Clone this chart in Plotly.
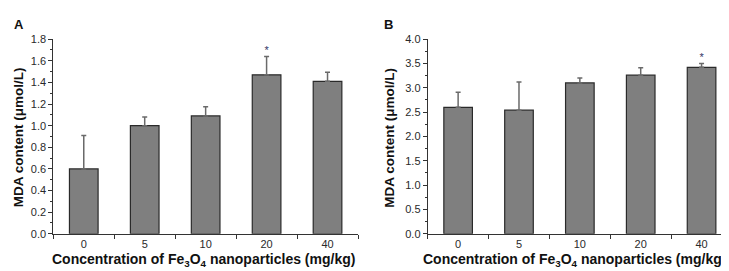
import plotly.graph_objects as go

categories = ["0", "5", "10", "20", "40"]
mda_a = [0.60, 1.00, 1.09, 1.47, 1.41]
err_a = [0.31, 0.08, 0.085, 0.17, 0.085]
mda_b = [2.60, 2.54, 3.10, 3.26, 3.42]
err_b = [0.31, 0.58, 0.10, 0.15, 0.08]
sig_a = ["", "", "", "*", ""]
sig_b = ["", "", "", "", "*"]

W, H = 729, 271
BAR = "#7f7f7f"
EDGE = "#2a2a2a"
AX = "#333333"

def px_x(v):
    return v / W

def px_y(v):
    return 1 - v / H

fig = go.Figure()

for i, (vals, errs, sig) in enumerate([(mda_a, err_a, sig_a), (mda_b, err_b, sig_b)]):
    xa = "x" if i == 0 else "x2"
    ya = "y" if i == 0 else "y2"
    fig.add_trace(go.Bar(
        x=categories, y=vals, xaxis=xa, yaxis=ya, width=0.47,
        marker=dict(color=BAR, line=dict(color=EDGE, width=1.2)),
        error_y=dict(type="data", array=errs, arrayminus=[0] * len(errs), symmetric=False,
                     color="#6a6a6a", thickness=1.5, width=2.5),
        showlegend=False, hoverinfo="skip",
    ))
    sx = [c for c, s in zip(categories, sig) if s]
    sy = [v + e for v, e, s in zip(vals, errs, sig) if s]
    st = [s for s in sig if s]
    fig.add_trace(go.Scatter(
        x=sx, y=sy, xaxis=xa, yaxis=ya,
        mode="text", text=st, textposition="top center",
        textfont=dict(size=11, color="#333366", family="Liberation Sans, Arial"),
        showlegend=False, hoverinfo="skip",
    ))

tickfont = dict(size=11, color="#2a2a2a", family="Liberation Sans, Arial")
common_x = dict(type="category", tickson="boundaries", ticks="outside", ticklen=4,
                tickcolor=AX, showline=True, linecolor=AX, linewidth=1,
                showgrid=False, zeroline=False, tickfont=tickfont, fixedrange=True)
common_y = dict(ticks="outside", ticklen=4, tickcolor=AX, showline=True, linecolor=AX,
                linewidth=1, showgrid=False, zeroline=False, tickfont=tickfont,
                tickformat=".1f")

ydom = [px_y(230), px_y(26.3)]
fig.update_layout(
    width=W, height=H,
    margin=dict(l=0, r=0, t=0, b=0),
    paper_bgcolor="white", plot_bgcolor="white",
    font=dict(family="Liberation Sans, Arial", color="#111111"),
    xaxis=dict(domain=[px_x(45.3), px_x(350)], anchor="y", **common_x),
    xaxis2=dict(domain=[px_x(419.7), px_x(724)], anchor="y2", **common_x),
    yaxis=dict(domain=ydom, anchor="x", range=[0, 1.8], dtick=0.2,
               minor=dict(ticks="outside", ticklen=2, dtick=0.1, tickcolor=AX), **common_y),
    yaxis2=dict(domain=ydom, anchor="x2", range=[0, 4.0], dtick=0.5,
                minor=dict(ticks="outside", ticklen=2, dtick=0.25, tickcolor=AX), **common_y),
    bargap=0.53,
)

xtitle = "Concentration of Fe<sub>3</sub>O<sub>4</sub> nanoparticles (mg/kg)"
ytitle = "MDA content (μmol/L)"
ann = []
for cx, yx, lx, lab in [(195, 10.5, 11.5, "A"), (566, 382, 380, "B")]:
    ann.append(dict(text="<b>" + xtitle + "</b>", x=px_x(cx), y=px_y(257), xref="paper", yref="paper",
                    showarrow=False, font=dict(size=14, color="#111111"), xanchor="center", yanchor="middle"))
    ann.append(dict(text="<b>" + ytitle + "</b>", x=px_x(yx), y=px_y(129.5), xref="paper", yref="paper",
                    showarrow=False, textangle=-90, font=dict(size=13.5, color="#111111"),
                    xanchor="center", yanchor="middle"))
    ann.append(dict(text="<b>" + lab + "</b>", x=px_x(lx), y=px_y(11), xref="paper", yref="paper",
                    showarrow=False, font=dict(size=13, color="#111111"), xanchor="center", yanchor="middle"))
fig.update_layout(annotations=ann)

fig.write_html("out.html")
